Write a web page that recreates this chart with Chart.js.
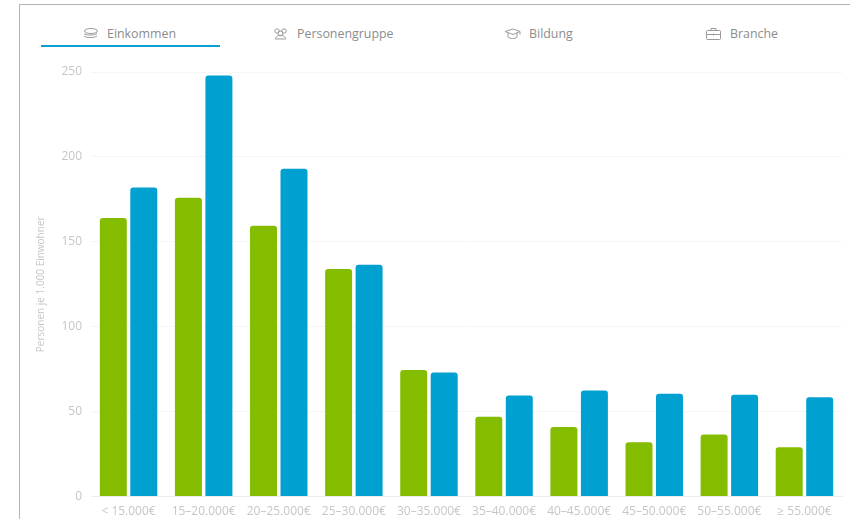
<!DOCTYPE html>
<html lang="de">
<head>
<meta charset="utf-8">
<title>Personen je 1.000 Einwohner nach Einkommen</title>
<script src="https://cdn.jsdelivr.net/npm/chart.js@4"></script>
<style>
  html, body { margin: 0; padding: 0; background: #fff; }
  body { width: 850px; height: 519px; position: relative; overflow: hidden; font-family: "Open Sans", sans-serif; }
  .frame { position: absolute; left: 19px; top: 4px; right: -2px; bottom: -2px; border: 1px solid #b4b4b4; }
  .tab { position: absolute; top: 25px; height: 16px; display: flex; align-items: center; gap: 8px; font-size: 12.4px; color: #8c8c8c; white-space: nowrap; }
  .tab svg { width: 17px; height: 13px; fill: none; stroke: #9a9a9a; stroke-width: 1; }
  .active-line { position: absolute; left: 41px; top: 45px; width: 179px; height: 2px; background: #0aa0d2; }
  #chart-wrap { position: absolute; left: 0; top: 0; width: 850px; height: 519px; overflow: hidden; }
</style>
</head>
<body>
<div class="frame"></div>
<div class="tab" style="left:82px">
  <svg viewBox="0 0 17 13"><ellipse cx="9" cy="4" rx="6.5" ry="2.5"/><path d="M2 6.5c1 2 11 2 13 0M2 9c1 2 11 2 13 0"/></svg>Einkommen
</div>
<div class="tab" style="left:272px">
  <svg viewBox="0 0 17 13"><circle cx="5" cy="4" r="2.2"/><circle cx="12" cy="4" r="2.2"/><circle cx="8.5" cy="6.5" r="2.4"/><path d="M3.5 12c0-5 10-5 10 0z"/></svg>Personengruppe
</div>
<div class="tab" style="left:504px">
  <svg viewBox="0 0 17 13"><path d="M1 4.5 9 2l7 2.5-7 3zM4 6v4c2 2 7 2 9 0V6M16 4.5v3"/></svg>Bildung
</div>
<div class="tab" style="left:705px">
  <svg viewBox="0 0 17 13"><rect x="1.5" y="3.5" width="14" height="9" rx="1"/><path d="M6 3.5V1.5h5v2M1.5 7.5h14M8.5 6.5v2"/></svg>Branche
</div>
<div class="active-line"></div>
<div id="chart-wrap"><canvas id="income-chart" width="850" height="519"></canvas></div>

<script>
  // Einkommensklassen
  const categories = ['< 15.000€', '15–20.000€', '20–25.000€', '25–30.000€', '30–35.000€',
    '35–40.000€', '40–45.000€', '45–50.000€', '50–55.000€', '≥ 55.000€'];
  const greenValues = [164, 176, 159.5, 134, 74.5, 47, 41, 32, 36.5, 29];
  const blueValues = [182, 248, 193, 136.5, 73, 59.5, 62.5, 60.5, 60, 58.5];
  const yTicks = [0, 50, 100, 150, 200, 250];
  const yTitle = 'Personen je 1.000 Einwohner';

  const mutedText = '#c6c6c6';

  new Chart(document.getElementById('income-chart'), {
    type: 'bar',
    data: {
      labels: categories,
      datasets: [
        { data: greenValues, backgroundColor: '#84bd00' },
        { data: blueValues, backgroundColor: '#00a0d0' }
      ]
    },
    options: {
      responsive: false,
      animation: false,
      layout: { padding: { left: 35, right: 8, top: 72, bottom: 0 } },
      datasets: {
        bar: {
          categoryPercentage: 0.812,
          barPercentage: 0.885,
          borderRadius: { topLeft: 3, topRight: 3 },
          borderSkipped: 'bottom'
        }
      },
      plugins: {
        legend: { display: false },
        title: { display: false },
        tooltip: { enabled: false }
      },
      scales: {
        x: {
          grid: { display: false },
          border: { color: '#ededed' },
          ticks: {
            color: mutedText,
            font: { family: 'Open Sans', size: 12 },
            maxRotation: 0,
            autoSkip: false,
            padding: 0
          }
        },
        y: {
          min: 0,
          max: 250,
          // feste Breite, damit die Zeichenfläche bei x = 91 beginnt
          afterFit: (scale) => { scale.width = 56; },
          afterBuildTicks: (scale) => { scale.ticks = yTicks.map(value => ({ value })); },
          grid: { color: '#f6f6f6', drawTicks: false },
          border: { display: false },
          ticks: {
            color: mutedText,
            font: { family: 'Open Sans', size: 12 },
            padding: 9
          },
          title: {
            display: true,
            text: yTitle,
            color: mutedText,
            font: { family: 'Open Sans', size: 10 },
            padding: 0
          }
        }
      }
    }
  });
</script>
</body>
</html>
